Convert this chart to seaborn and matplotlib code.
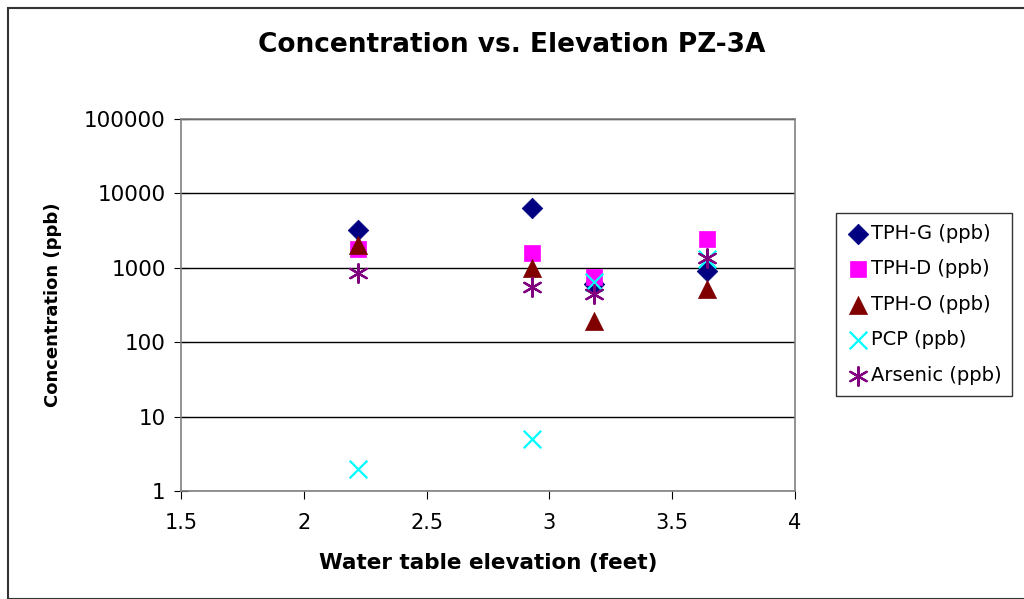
import pandas as pd
import seaborn as sns
import matplotlib.pyplot as plt

# Water table elevation (feet) for each sampling event
elevation = [2.22, 2.93, 3.18, 3.64]

# Concentrations (ppb)
tph_g = [3200, 6300, 600, 900]
tph_d = [1800, 1580, 750, 2450]
tph_o = [2000, 1000, 190, 520]
pcp = [2, 5, 650, 1300]
arsenic = [850, 550, 440, 1350]

series_names = ['TPH-G (ppb)', 'TPH-D (ppb)', 'TPH-O (ppb)', 'PCP (ppb)', 'Arsenic (ppb)']
series_values = [tph_g, tph_d, tph_o, pcp, arsenic]
colors = ['#000080', '#FF00FF', '#800000', '#00FFFF', '#800080']
markers = ['D', 's', '^', 'x', (6, 2, 0)]
sizes = [110, 130, 170, 160, 180]

sns.set_style('white')
plt.rcParams['font.family'] = ['DejaVu Sans']
plt.rcParams['text.color'] = 'black'
plt.rcParams['axes.labelcolor'] = 'black'
plt.rcParams['xtick.color'] = 'black'
plt.rcParams['ytick.color'] = 'black'

fig = plt.figure(figsize=(10.24, 5.99), dpi=100)
ax = fig.add_axes([181 / 1024, 1 - 491 / 599, (795 - 181) / 1024, (491 - 119) / 599])

for name, vals, c, m, s in zip(series_names, series_values, colors, markers, sizes):
    df = pd.DataFrame({'x': elevation, 'y': vals})
    if m in ('x', (6, 2, 0)):
        sns.scatterplot(data=df, x='x', y='y', ax=ax, color=c, marker=m, s=s,
                        linewidth=1.6, label=name, zorder=3)
    else:
        sns.scatterplot(data=df, x='x', y='y', ax=ax, color=c, marker=m, s=s,
                        edgecolor=c, linewidth=0.5, label=name, zorder=3)

ax.set_yscale('log')
ax.set_ylim(1, 100000)
ax.set_xlim(1.5, 4)
ax.set_xticks([1.5, 2, 2.5, 3, 3.5, 4])
ax.set_xticklabels(['1.5', '2', '2.5', '3', '3.5', '4'])
ax.set_yticks([1, 10, 100, 1000, 10000, 100000])
ax.set_yticklabels(['1', '10', '100', '1000', '10000', '100000'])
ax.minorticks_off()
ax.yaxis.grid(True, color='#000000', linewidth=1.0)
ax.set_axisbelow(True)
for sp in ax.spines.values():
    sp.set_color('#808080')
    sp.set_linewidth(1.2)
ax.tick_params(axis='x', labelsize=15, length=6, direction='out', color='#000000',
               bottom=True, pad=10)
ax.tick_params(axis='y', labelsize=15.5, length=10, direction='inout', color='#000000',
               left=True, pad=6)

ax.set_xlabel('Water table elevation (feet)', fontsize=15.5, fontweight='bold', labelpad=14)
ax.set_ylabel('Concentration (ppb)', fontsize=13, fontweight='bold', labelpad=16)
fig.text(0.5, 1 - 45 / 599, 'Concentration vs. Elevation PZ-3A', ha='center', va='center',
         fontsize=19, fontweight='bold')

leg = ax.legend(loc='upper left', bbox_to_anchor=(836 / 1024, 1 - 213 / 599),
                bbox_transform=fig.transFigure, fontsize=14, frameon=True,
                fancybox=False, edgecolor='#000000', borderpad=0.55, labelspacing=0.85,
                handletextpad=0.05, handlelength=1.2, borderaxespad=0)
leg.get_frame().set_linewidth(1.0)

# outer chart border
fig.patches.append(plt.Rectangle((8 / 1024, 0), 1.2, 1 - 8 / 599, transform=fig.transFigure,
                                 fill=False, edgecolor='#333333', linewidth=1.5))

fig.savefig('out.png', dpi=100)
